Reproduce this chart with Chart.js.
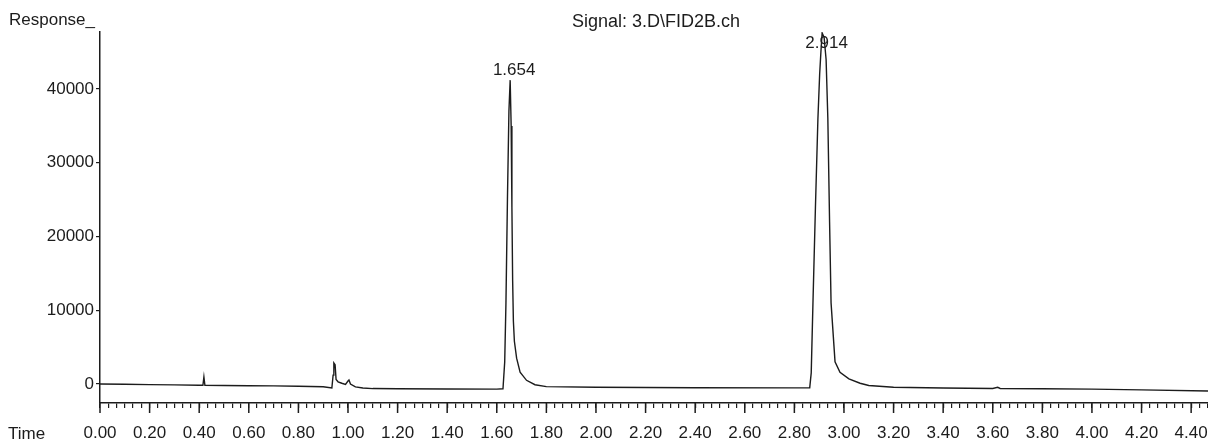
<!DOCTYPE html>
<html>
<head>
<meta charset="utf-8">
<script src="https://cdn.jsdelivr.net/npm/chart.js@4/dist/chart.umd.min.js"></script>
<style>
  html, body { margin: 0; padding: 0; background: #fff; }
  #wrap { width: 1208px; height: 440px; position: relative; }
</style>
</head>
<body>
<div id="wrap"><canvas id="chart" width="1208" height="440"></canvas></div>
<script>
const times = [
  0.00, 0.10, 0.20, 0.30, 0.40, 0.415, 0.419, 0.423, 0.50, 0.60, 0.70, 0.80, 0.90,
  0.935, 0.940, 0.943, 0.948, 0.952, 0.960, 0.975, 0.990, 1.000, 1.004, 1.010, 1.030,
  1.060, 1.100, 1.200, 1.400, 1.600, 1.625, 1.632, 1.637, 1.643, 1.649, 1.654, 1.658,
  1.661, 1.664, 1.667, 1.671, 1.680, 1.694, 1.720, 1.754, 1.800, 2.000, 2.400, 2.800,
  2.862, 2.868, 2.875, 2.885, 2.895, 2.902, 2.907, 2.912, 2.920, 2.928, 2.935, 2.942,
  2.948, 2.964, 2.984, 3.020, 3.065, 3.100, 3.200, 3.400, 3.600, 3.620, 3.630, 3.800,
  4.000, 4.200, 4.468
];
const response = [
  0, -30, -80, -120, -160, -170, 950, -170, -200, -230, -260, -300, -380,
  -540, 1200, 2850, 2600, 600, 300, 100, -50, 400, 540, 0, -400,
  -550, -620, -650, -680, -700, -650, 3000, 11000, 25000, 37000, 41200, 35000,
  24000, 14000, 8500, 5800, 3500, 1600, 500, -100, -350, -450, -500, -520,
  -500, 1500, 11000, 24000, 36000, 42000, 45000, 47600, 47000, 44000, 36000, 22000,
  11000, 3000, 1600, 700, 100, -200, -450, -550, -600, -450, -600, -650,
  -700, -800, -950
];
const yTicks = [0, 10000, 20000, 30000, 40000];
const xLabels = ['0.00', '0.20', '0.40', '0.60', '0.80', '1.00', '1.20', '1.40', '1.60', '1.80',
  '2.00', '2.20', '2.40', '2.60', '2.80', '3.00', '3.20', '3.40', '3.60', '3.80', '4.00', '4.20', '4.40'];
const peakTimes = [1.654, 2.914];
const peakValues = [41200, 47600];
const peakLabels = ['1.654', '2.914'];
const signalTitle = 'Signal: 3.D\\FID2B.ch';

const ink = '#1c1c1c';
const family = "'Liberation Sans', Arial, sans-serif";
const font = { family: family, size: 17 };
const minorPerMajor = 6;

const textPlugin = {
  id: 'texts',
  afterDraw(chart) {
    const ctx = chart.ctx;
    const xs = chart.scales.x, ys = chart.scales.y;
    ctx.save();
    ctx.fillStyle = ink;
    ctx.font = `17px ${family}`;
    ctx.textBaseline = 'alphabetic';
    ctx.textAlign = 'left';
    ctx.fillText('Response_', 9, 25);
    ctx.fillText('Time', 8, 439);
    ctx.font = `18px ${family}`;
    ctx.fillText(signalTitle, 572, 27);
    ctx.font = `17px ${family}`;
    ctx.textAlign = 'center';
    peakTimes.forEach((t, i) => {
      const px = xs.getPixelForValue(t) + 4;
      const py = Math.max(ys.getPixelForValue(peakValues[i]) - 5, chart.chartArea.top + 16);
      ctx.fillText(peakLabels[i], px, py);
    });
    // longer marks for the labelled times
    ctx.strokeStyle = ink;
    ctx.lineWidth = 1.5;
    xLabels.forEach(l => {
      const px = xs.getPixelForValue(parseFloat(l));
      ctx.beginPath();
      ctx.moveTo(px, chart.chartArea.bottom);
      ctx.lineTo(px, chart.chartArea.bottom + 10);
      ctx.stroke();
    });
    ctx.restore();
  }
};

new Chart(document.getElementById('chart'), {
  type: 'line',
  data: {
    datasets: [{
      data: times.map((t, i) => ({ x: t, y: response[i] })),
      borderColor: ink,
      borderWidth: 1.4,
      pointRadius: 0,
      tension: 0,
      fill: false
    }]
  },
  options: {
    responsive: false,
    animation: false,
    devicePixelRatio: 1,
    layout: { padding: { top: 32, right: 0, left: 0, bottom: 0 } },
    plugins: { legend: { display: false }, tooltip: { enabled: false } },
    scales: {
      x: {
        type: 'linear',
        min: 0,
        max: 4.468,
        afterBuildTicks(scale) {
          const ticks = [];
          for (let i = 0; i * 0.2 / minorPerMajor <= 4.468; i++) ticks.push({ value: i * 0.2 / minorPerMajor });
          scale.ticks = ticks;
        },
        afterFit(scale) {
          scale.height = 37;
          scale.paddingLeft = 0;
          scale.paddingRight = 0;
        },
        ticks: {
          autoSkip: false,
          maxRotation: 0,
          padding: 15,
          color: ink,
          font: font,
          callback: (v, i) => (i % minorPerMajor === 0 ? xLabels[i / minorPerMajor] || '' : '')
        },
        grid: { drawOnChartArea: false, tickLength: 5, color: ink, lineWidth: 1.2 },
        border: { color: ink, width: 1.5 }
      },
      y: {
        min: -2576,
        max: 47729,
        afterBuildTicks(scale) { scale.ticks = yTicks.map(v => ({ value: v })); },
        afterFit(scale) {
          scale.width = 100;
          scale.paddingTop = 0;
          scale.paddingBottom = 0;
        },
        ticks: { padding: 2, color: ink, font: font, callback: v => String(v) },
        grid: { drawOnChartArea: false, tickLength: 4, color: ink, lineWidth: 1.2 },
        border: { color: ink, width: 1.5 }
      }
    }
  },
  plugins: [textPlugin]
});
</script>
</body>
</html>
